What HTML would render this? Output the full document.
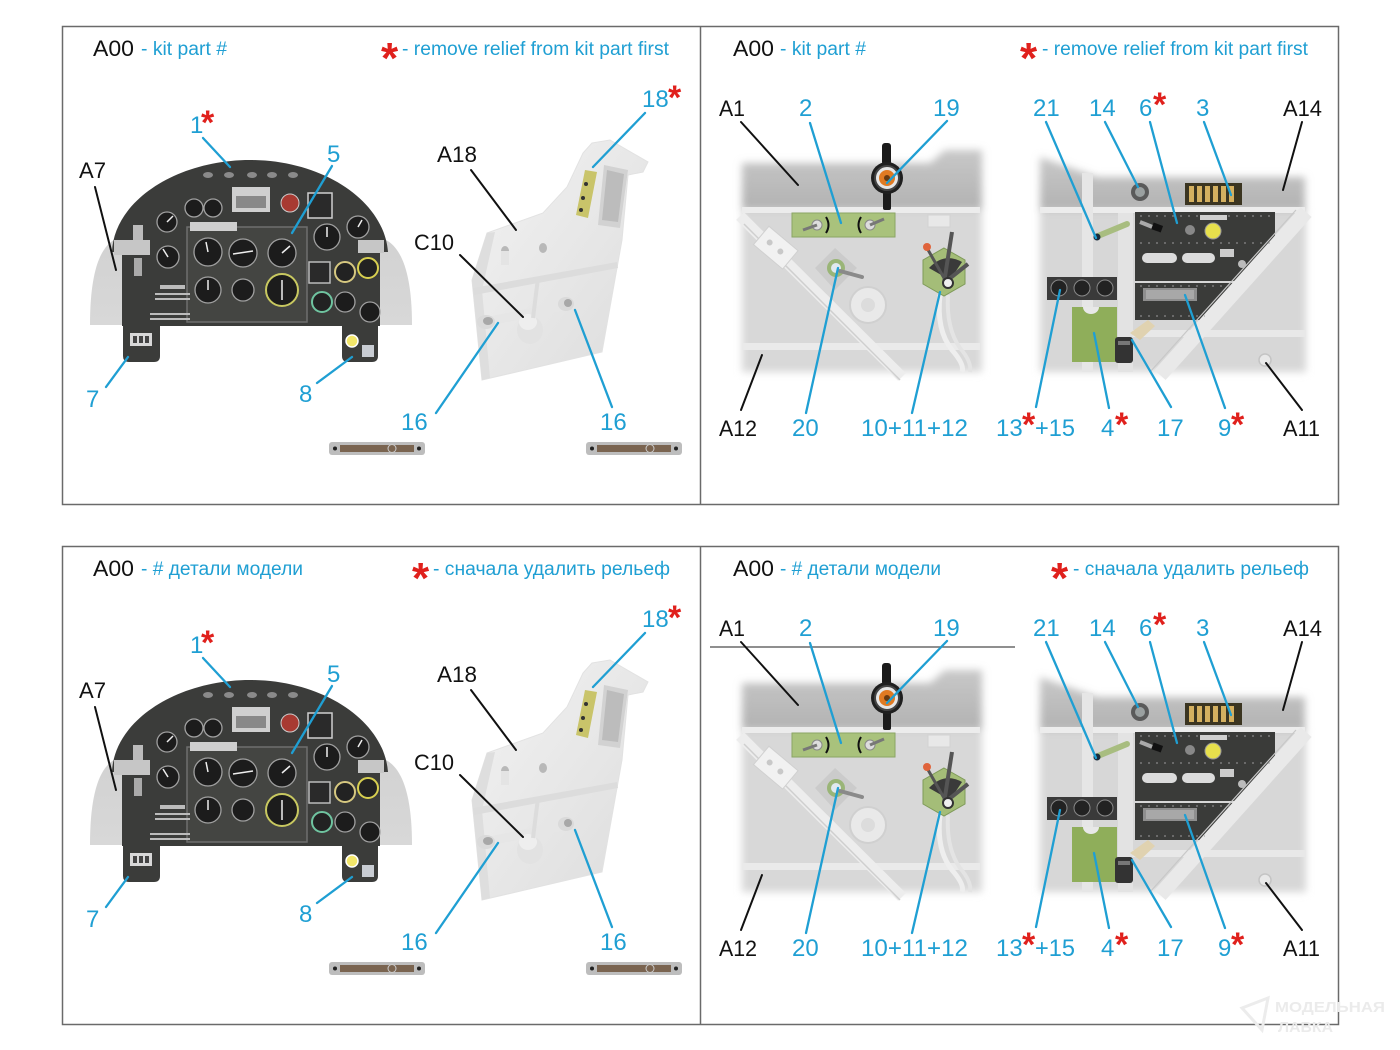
<!DOCTYPE html>
<html><head><meta charset="utf-8">
<style>
html,body{margin:0;padding:0;background:#fff;}
svg{display:block;}
text{font-family:"Liberation Sans","Noto Sans CJK SC",sans-serif;}
.c{fill:#1f9fd3;font-size:24px;}
.k{fill:#111;font-size:22px;}
.h{fill:#1f9fd3;font-size:19px;}
.hk{fill:#111;font-size:22px;}
.r{fill:#e0201c;font-weight:bold;font-size:34px;}
.rh{fill:#e0201c;font-weight:bold;font-size:44px;}
.lc{stroke:#1f9fd3;stroke-width:2.3;fill:none;stroke-linecap:round;}
.lk{stroke:#111;stroke-width:2;fill:none;stroke-linecap:round;}
</style></head><body>
<svg width="1400" height="1050" viewBox="0 0 1400 1050" xmlns="http://www.w3.org/2000/svg">
<defs>
 <linearGradient id="gDome" x1="0" y1="0" x2="0" y2="1"><stop offset="0" stop-color="#d2d2d2"/><stop offset="1" stop-color="#d8d8d8"/></linearGradient>
 <linearGradient id="gBand" x1="0" y1="0" x2="0" y2="1"><stop offset="0" stop-color="#c8c8c8"/><stop offset="1" stop-color="#b2b2b2"/></linearGradient>
 <linearGradient id="gBr" x1="0" y1="0" x2="1" y2="1"><stop offset="0" stop-color="#f3f3f3"/><stop offset="1" stop-color="#dcdcdc"/></linearGradient>
 <filter id="bl4" x="-10%" y="-10%" width="120%" height="120%"><feGaussianBlur stdDeviation="4"/></filter>

 <g id="picL">
  <path d="M90,325 C90,272 100,248 114,240 L386,240 C401,248 412,272 412,325 Z" fill="url(#gDome)"/>
  <path d="M112,252 C114,200 178,160 250,160 C322,160 384,200 388,252 L380,252 L380,326 L122,326 L122,252 Z" fill="#3b3c3a"/>
  <rect x="114" y="240" width="36" height="15" fill="#c6c6c6"/>
  <rect x="358" y="240" width="26" height="13" fill="#c6c6c6"/>
  <path d="M123,325 L160,325 L160,356 Q160,362 154,362 L129,362 Q123,362 123,356 Z" fill="#3b3c3a"/>
  <path d="M342,325 L378,325 L378,356 Q378,362 372,362 L348,362 Q342,362 342,356 Z" fill="#3b3c3a"/>
  <rect x="130" y="333" width="22" height="13" fill="#d8d8d8"/>
  <rect x="133" y="336" width="4" height="7" fill="#444"/><rect x="139" y="336" width="4" height="7" fill="#444"/><rect x="145" y="336" width="4" height="7" fill="#444"/>
  <circle cx="352" cy="341" r="6" fill="#f2e66a" stroke="#fff" stroke-width="1.5"/>
  <rect x="362" y="345" width="12" height="12" fill="#c8ccd2"/>
  <ellipse cx="208" cy="175" rx="5" ry="3" fill="#8a8a8a"/><ellipse cx="229" cy="175" rx="5" ry="3" fill="#8a8a8a"/><ellipse cx="252" cy="175" rx="5" ry="3" fill="#8a8a8a"/><ellipse cx="272" cy="175" rx="5" ry="3" fill="#8a8a8a"/><ellipse cx="293" cy="175" rx="5" ry="3" fill="#8a8a8a"/>
  <rect x="232" y="187" width="38" height="25" fill="#cfcfcf"/><rect x="236" y="196" width="30" height="12" fill="#888"/>
  <rect x="308" y="193" width="24" height="25" fill="#2a2a2a" stroke="#cfcfcf" stroke-width="1.5"/>
  <circle cx="290" cy="203" r="9" fill="#a83a32" stroke="#ccc"/>
  <rect x="187" y="227" width="120" height="95" fill="#444542" stroke="#6e6e6e" stroke-width="1.5"/>
  <rect x="190" y="222" width="47" height="9" fill="#cfcfcf"/>
  <g fill="#1c1c1c" stroke="#a0a0a0" stroke-width="1.3">
   <circle cx="194" cy="208" r="9"/><circle cx="213" cy="208" r="9"/>
   <circle cx="167" cy="222" r="10"/><circle cx="168" cy="257" r="11"/>
   <circle cx="208" cy="252" r="14"/><circle cx="243" cy="253" r="14"/><circle cx="282" cy="253" r="14"/>
   <circle cx="208" cy="290" r="13"/><circle cx="243" cy="290" r="11"/>
   <circle cx="327" cy="237" r="13"/><circle cx="358" cy="227" r="11"/>
   <circle cx="345" cy="302" r="10"/><circle cx="370" cy="312" r="10"/>
  </g>
  <circle cx="282" cy="290" r="16" fill="#1c1c1c" stroke="#c8c860" stroke-width="2"/>
  <circle cx="345" cy="272" r="10" fill="#222" stroke="#d6c880" stroke-width="2"/>
  <circle cx="368" cy="268" r="10" fill="#222" stroke="#d8d050" stroke-width="2"/>
  <circle cx="322" cy="302" r="10" fill="#222" stroke="#6fc4a0" stroke-width="2"/>
  <rect x="309" y="262" width="21" height="21" fill="#2a2a2a" stroke="#bbb" stroke-width="1.5"/>
  <g stroke="#eee" stroke-width="1.5">
   <line x1="208" y1="252" x2="206" y2="242"/><line x1="233" y1="254" x2="253" y2="251"/><line x1="282" y1="253" x2="290" y2="246"/>
   <line x1="208" y1="290" x2="208" y2="280"/><line x1="282" y1="280" x2="282" y2="300"/><line x1="327" y1="237" x2="327" y2="227"/>
   <line x1="168" y1="257" x2="163" y2="249"/><line x1="167" y1="222" x2="173" y2="216"/><line x1="358" y1="227" x2="362" y2="220"/>
  </g>
  <rect x="133" y="225" width="10" height="15" fill="#bbb"/><rect x="134" y="258" width="8" height="18" fill="#aaa"/>
  <g fill="#bbb"><rect x="155" y="293" width="35" height="2"/><rect x="155" y="298" width="35" height="2"/><rect x="160" y="285" width="25" height="4"/><rect x="150" y="313" width="40" height="2"/><rect x="150" y="318" width="40" height="2"/></g>
  <!-- bracket -->
  <path d="M592,143 L610,140 L648,162 L643,172 L628,175 L622,240 L602,352 L482,380 L472,280 L487,233 L543,213 L567,187 L583,153 Z" fill="url(#gBr)" stroke="#e2e2e2" stroke-width="1"/>
  <path d="M472,280 L487,233 L495,232 L482,290 L490,378 L482,380 Z" fill="#dedede"/>
  <path d="M473,288 L617,262 L618,268 L474,295 Z" fill="#dcdcdc"/>
  <path d="M604,165 L628,170 L620,228 L598,225 Z" fill="#d2d2d2"/>
  <path d="M607,170 L624,174 L618,222 L602,220 Z" fill="#bcbcbc"/>
  <path d="M585,170 L597,172 L588,218 L576,215 Z" fill="#c9c46a"/>
  <circle cx="586" cy="184" r="2" fill="#333"/><circle cx="583" cy="198" r="2" fill="#333"/><circle cx="581" cy="210" r="2" fill="#333"/>
  <ellipse cx="505" cy="251" rx="4" ry="5" fill="#b8b8b8"/><ellipse cx="543" cy="248" rx="4" ry="5" fill="#b8b8b8"/>
  <rect x="501" y="251" width="8" height="14" fill="#e4e4e4"/>
  <line x1="485" y1="322" x2="568" y2="305" stroke="#e6e6e6" stroke-width="9"/>
  <ellipse cx="486" cy="322" rx="9" ry="7" fill="#dadada"/><ellipse cx="488" cy="321" rx="5" ry="4" fill="#a8a8a8"/>
  <ellipse cx="566" cy="304" rx="8" ry="7" fill="#dadada"/><ellipse cx="568" cy="303" rx="4" ry="4" fill="#a8a8a8"/>
  <ellipse cx="530" cy="330" rx="13" ry="14" fill="#e2e2e2"/><ellipse cx="528" cy="322" rx="9" ry="8" fill="#eeeeee"/>
  <line x1="538" y1="278" x2="533" y2="318" stroke="#dcdcdc" stroke-width="4"/>
  <!-- bars -->
  <rect x="329" y="442" width="96" height="13" rx="3" fill="#bdbdbd"/>
  <rect x="340" y="445" width="74" height="7" fill="#7a6450"/>
  <circle cx="335" cy="448.5" r="2" fill="#222"/><circle cx="419" cy="448.5" r="2" fill="#222"/><circle cx="392" cy="448.5" r="4" fill="none" stroke="#ccc"/>
  <rect x="586" y="442" width="96" height="13" rx="3" fill="#bdbdbd"/>
  <rect x="597" y="445" width="74" height="7" fill="#7a6450"/>
  <circle cx="592" cy="448.5" r="2" fill="#222"/><circle cx="676" cy="448.5" r="2" fill="#222"/><circle cx="650" cy="448.5" r="4" fill="none" stroke="#ccc"/>
 </g>

 <g id="picR">
  <g filter="url(#bl4)">
   <rect x="742" y="208" width="240" height="164" fill="#d8d8d8"/>
   <path d="M742,163 L930,163 L945,150 L982,150 L982,209 L742,209 Z" fill="url(#gBand)"/>
  </g>
  <rect x="742" y="207" width="238" height="6" fill="#ececec"/>
  <rect x="742" y="343" width="238" height="7" fill="#eaeaea"/>
  <line x1="740" y1="216" x2="902" y2="377" stroke="#ededed" stroke-width="11"/>
  <line x1="744" y1="224" x2="900" y2="380" stroke="#cfcfcf" stroke-width="1.5"/>
  <g transform="rotate(40 775 247)"><rect x="757" y="235" width="38" height="24" fill="#f1f1f1" stroke="#d0d0d0"/><circle cx="768" cy="247" r="3" fill="#c8c8c8"/><circle cx="782" cy="247" r="3" fill="#c8c8c8"/></g>
  <rect x="792" y="213" width="103" height="24" fill="#a9c27c" stroke="#8aa565"/>
  <circle cx="817" cy="225" r="5" fill="#ddd" stroke="#888"/><circle cx="870" cy="225" r="5" fill="#ddd" stroke="#888"/>
  <line x1="817" y1="225" x2="803" y2="230" stroke="#777" stroke-width="3"/><line x1="870" y1="225" x2="884" y2="219" stroke="#777" stroke-width="3"/>
  <path d="M826,217 Q831,225 826,233" stroke="#111" stroke-width="2" fill="none"/><path d="M861,217 Q856,225 861,233" stroke="#111" stroke-width="2" fill="none"/>
  <rect x="882" y="143" width="9" height="22" rx="3" fill="#1b1b1b"/><rect x="883" y="192" width="8" height="18" rx="2" fill="#1b1b1b"/>
  <circle cx="887" cy="178" r="16" fill="#1f1f1f"/><circle cx="887" cy="178" r="12" fill="#e6e6e6" stroke="#444" stroke-width="2"/><circle cx="887" cy="178" r="8" fill="#e07a22"/><circle cx="887" cy="178" r="3" fill="#6a3a10"/>
  <path d="M835,248 L857,268 L835,290 L815,268 Z" fill="#cbcbcb"/>
  <circle cx="836" cy="268" r="9" fill="#9ab577"/><circle cx="836" cy="268" r="5" fill="#e0e8ef"/>
  <line x1="840" y1="271" x2="862" y2="277" stroke="#8a8a8a" stroke-width="4" stroke-linecap="round"/>
  <circle cx="868" cy="305" r="18" fill="#e9e9e9" stroke="#d0d0d0" stroke-width="2"/><circle cx="868" cy="305" r="7" fill="#dcdcdc"/>
  <rect x="928" y="215" width="22" height="12" fill="#e8e8e8" stroke="#d2d2d2"/>
  <path d="M940,295 Q936,330 952,350 Q965,365 962,372" stroke="#eeeeee" stroke-width="5" fill="none"/>
  <path d="M948,295 Q946,328 960,348 Q972,362 970,372" stroke="#e4e4e4" stroke-width="4" fill="none"/>
  <polygon points="944,248 965,260 965,284 944,296 923,284 923,260" fill="#a4bd78" stroke="#7e9a58"/>
  <path d="M929,268 Q944,252 962,262 L950,280 Z" fill="#3a3a3a"/>
  <line x1="944" y1="283" x2="952" y2="232" stroke="#555" stroke-width="4"/><line x1="944" y1="283" x2="968" y2="264" stroke="#555" stroke-width="4"/><line x1="944" y1="278" x2="927" y2="248" stroke="#555" stroke-width="3"/>
  <circle cx="927" cy="247" r="4" fill="#e0643c"/>
  <circle cx="948" cy="283" r="5" fill="#eee" stroke="#333" stroke-width="2"/>
  <g filter="url(#bl4)">
   <rect x="1040" y="208" width="266" height="164" fill="#d7d7d7"/>
   <path d="M1040,157 L1097,177 L1305,177 L1305,210 L1040,210 Z" fill="url(#gBand)"/>
  </g>
  <rect x="1040" y="207" width="265" height="6" fill="#ececec"/>
  <rect x="1082" y="173" width="11" height="199" fill="#e6e6e6"/>
  <rect x="1118" y="213" width="15" height="159" fill="#e3e3e3"/>
  <rect x="1133" y="330" width="172" height="7" fill="#e8e8e8"/>
  <path d="M1135,212 L1275,212 L1275,243 L1237,281 L1135,281 Z" fill="#3a3b39"/>
  <path d="M1135,283 L1236,283 L1207,320 L1135,320 Z" fill="#3a3b39"/>
  <line x1="1306" y1="212" x2="1160" y2="375" stroke="#e9e9e9" stroke-width="15"/>
  <line x1="1296" y1="210" x2="1150" y2="372" stroke="#c8c8c8" stroke-width="1.2"/>
  <g stroke="#9a9a9a" stroke-width="1" stroke-dasharray="2 6"><line x1="1140" y1="243" x2="1270" y2="243"/><line x1="1140" y1="216" x2="1270" y2="216"/><line x1="1140" y1="286" x2="1230" y2="286"/><line x1="1140" y1="316" x2="1205" y2="316"/></g>
  <circle cx="1213" cy="231" r="8" fill="#e7e04c" stroke="#999"/>
  <circle cx="1190" cy="230" r="5" fill="#888"/>
  <rect x="1200" y="215" width="27" height="5" fill="#cfcfcf"/>
  <path d="M1140,222 L1160,230" stroke="#aaa" stroke-width="4"/><rect x="1152" y="224" width="10" height="7" fill="#111" transform="rotate(20 1157 228)"/>
  <rect x="1142" y="253" width="35" height="10" rx="5" fill="#dcdcdc"/><rect x="1182" y="253" width="33" height="10" rx="5" fill="#dcdcdc"/>
  <rect x="1220" y="249" width="14" height="8" fill="#ccc"/><circle cx="1242" cy="264" r="4" fill="#bbb"/>
  <rect x="1143" y="288" width="54" height="13" fill="#8e8e8e"/><rect x="1146" y="290" width="48" height="9" fill="#a8a8a8"/>
  <rect x="1185" y="183" width="57" height="22" fill="#3b3521"/>
  <g fill="#d4b060"><rect x="1189" y="186" width="5" height="16"/><rect x="1197" y="186" width="5" height="16"/><rect x="1205" y="186" width="5" height="16"/><rect x="1213" y="186" width="5" height="16"/><rect x="1221" y="186" width="5" height="16"/><rect x="1229" y="186" width="5" height="16"/></g>
  <circle cx="1140" cy="192" r="9" fill="#5a5a5a"/><circle cx="1140" cy="192" r="5" fill="#9aa0a0"/>
  <line x1="1098" y1="236" x2="1127" y2="224" stroke="#a8bd80" stroke-width="6" stroke-linecap="round"/><circle cx="1097" cy="237" r="3.5" fill="#1a2a3a"/>
  <rect x="1047" y="277" width="70" height="23" fill="#3a3a3a"/>
  <g fill="#222" stroke="#888"><circle cx="1059" cy="288" r="8"/><circle cx="1082" cy="288" r="8"/><circle cx="1105" cy="288" r="8"/></g>
  <rect x="1072" y="307" width="45" height="55" fill="#8fae5a"/><path d="M1083,307 A8,7 0 0 0 1099,307 Z" fill="#e8e8e8"/>
  <rect x="1115" y="337" width="18" height="26" rx="3" fill="#333"/><rect x="1118" y="341" width="12" height="4" fill="#777"/>
  <path d="M1130,333 L1148,320 L1155,326 L1140,340 Z" fill="#e0d2b0"/>
  <circle cx="1265" cy="360" r="6" fill="#e8e8e8" stroke="#c4c4c4" stroke-width="1.5"/>
 </g>
</defs>

<rect x="62.5" y="26.5" width="1276" height="478" fill="none" stroke="#6a6a6a" stroke-width="1.5"/>
<line x1="700.5" y1="26" x2="700.5" y2="504" stroke="#6a6a6a" stroke-width="1.5"/>
<rect x="62.5" y="546.5" width="1276" height="478" fill="none" stroke="#6a6a6a" stroke-width="1.5"/>
<line x1="700.5" y1="546" x2="700.5" y2="1024" stroke="#6a6a6a" stroke-width="1.5"/>

<use href="#picL"/>
<use href="#picR"/>
<use href="#picL" y="520"/>
<use href="#picR" y="520"/>

<line x1="710" y1="647" x2="1015" y2="647" stroke="#6a6a6a" stroke-width="1.5"/>

<text class="hk" x="93" y="56" textLength="41" lengthAdjust="spacingAndGlyphs">A00</text>
<text class="h" x="141" y="55" textLength="86" lengthAdjust="spacingAndGlyphs">- kit part #</text>
<text class="rh" x="381" y="73">*</text>
<text class="h" x="402" y="55" textLength="267" lengthAdjust="spacingAndGlyphs">- remove relief from kit part first</text>

<text class="hk" x="733" y="56" textLength="41" lengthAdjust="spacingAndGlyphs">A00</text>
<text class="h" x="780" y="55" textLength="86" lengthAdjust="spacingAndGlyphs">- kit part #</text>
<text class="rh" x="1020" y="73">*</text>
<text class="h" x="1042" y="55" textLength="266" lengthAdjust="spacingAndGlyphs">- remove relief from kit part first</text>

<text class="hk" x="93" y="576" textLength="41" lengthAdjust="spacingAndGlyphs">A00</text>
<text class="h" x="141" y="575" textLength="162" lengthAdjust="spacingAndGlyphs">- # детали модели</text>
<text class="rh" x="412" y="593">*</text>
<text class="h" x="433" y="575" textLength="237" lengthAdjust="spacingAndGlyphs">- сначала удалить рельеф</text>

<text class="hk" x="733" y="576" textLength="41" lengthAdjust="spacingAndGlyphs">A00</text>
<text class="h" x="780" y="575" textLength="161" lengthAdjust="spacingAndGlyphs">- # детали модели</text>
<text class="rh" x="1051" y="593">*</text>
<text class="h" x="1073" y="575" textLength="236" lengthAdjust="spacingAndGlyphs">- сначала удалить рельеф</text>

<g>
 <text class="c" x="190" y="133">1</text><text class="r" x="201" y="134">*</text>
 <text class="c" x="327" y="162">5</text>
 <text class="k" x="79" y="178" textLength="27" lengthAdjust="spacingAndGlyphs">A7</text>
 <text class="k" x="437" y="162" textLength="40" lengthAdjust="spacingAndGlyphs">A18</text>
 <text class="k" x="414" y="250" textLength="40" lengthAdjust="spacingAndGlyphs">C10</text>
 <text class="c" x="642" y="107">18</text><text class="r" x="668" y="109">*</text>
 <text class="c" x="86" y="407">7</text>
 <text class="c" x="299" y="402">8</text>
 <text class="c" x="401" y="430">16</text>
 <text class="c" x="600" y="430">16</text>
 <text class="k" x="719" y="116" textLength="26" lengthAdjust="spacingAndGlyphs">A1</text>
 <text class="c" x="799" y="116">2</text>
 <text class="c" x="933" y="116">19</text>
 <text class="c" x="1033" y="116">21</text>
 <text class="c" x="1089" y="116">14</text>
 <text class="c" x="1139" y="116">6</text><text class="r" x="1153" y="116">*</text>
 <text class="c" x="1196" y="116">3</text>
 <text class="k" x="1283" y="116" textLength="39" lengthAdjust="spacingAndGlyphs">A14</text>
 <text class="k" x="719" y="436" textLength="38" lengthAdjust="spacingAndGlyphs">A12</text>
 <text class="c" x="792" y="436">20</text>
 <text class="c" x="861" y="436" textLength="107" lengthAdjust="spacingAndGlyphs">10+11+12</text>
 <text class="c" x="996" y="436">13</text><text class="r" x="1022" y="436">*</text><text class="c" x="1035" y="436" textLength="40" lengthAdjust="spacingAndGlyphs">+15</text>
 <text class="c" x="1101" y="436">4</text><text class="r" x="1115" y="436">*</text>
 <text class="c" x="1157" y="436">17</text>
 <text class="c" x="1218" y="436">9</text><text class="r" x="1231" y="436">*</text>
 <text class="k" x="1283" y="436" textLength="37" lengthAdjust="spacingAndGlyphs">A11</text>
</g>
<g transform="translate(0,520)">
 <text class="c" x="190" y="133">1</text><text class="r" x="201" y="134">*</text>
 <text class="c" x="327" y="162">5</text>
 <text class="k" x="79" y="178" textLength="27" lengthAdjust="spacingAndGlyphs">A7</text>
 <text class="k" x="437" y="162" textLength="40" lengthAdjust="spacingAndGlyphs">A18</text>
 <text class="k" x="414" y="250" textLength="40" lengthAdjust="spacingAndGlyphs">C10</text>
 <text class="c" x="642" y="107">18</text><text class="r" x="668" y="109">*</text>
 <text class="c" x="86" y="407">7</text>
 <text class="c" x="299" y="402">8</text>
 <text class="c" x="401" y="430">16</text>
 <text class="c" x="600" y="430">16</text>
 <text class="k" x="719" y="116" textLength="26" lengthAdjust="spacingAndGlyphs">A1</text>
 <text class="c" x="799" y="116">2</text>
 <text class="c" x="933" y="116">19</text>
 <text class="c" x="1033" y="116">21</text>
 <text class="c" x="1089" y="116">14</text>
 <text class="c" x="1139" y="116">6</text><text class="r" x="1153" y="116">*</text>
 <text class="c" x="1196" y="116">3</text>
 <text class="k" x="1283" y="116" textLength="39" lengthAdjust="spacingAndGlyphs">A14</text>
 <text class="k" x="719" y="436" textLength="38" lengthAdjust="spacingAndGlyphs">A12</text>
 <text class="c" x="792" y="436">20</text>
 <text class="c" x="861" y="436" textLength="107" lengthAdjust="spacingAndGlyphs">10+11+12</text>
 <text class="c" x="996" y="436">13</text><text class="r" x="1022" y="436">*</text><text class="c" x="1035" y="436" textLength="40" lengthAdjust="spacingAndGlyphs">+15</text>
 <text class="c" x="1101" y="436">4</text><text class="r" x="1115" y="436">*</text>
 <text class="c" x="1157" y="436">17</text>
 <text class="c" x="1218" y="436">9</text><text class="r" x="1231" y="436">*</text>
 <text class="k" x="1283" y="436" textLength="37" lengthAdjust="spacingAndGlyphs">A11</text>
</g>

<g id="lines">
 <line class="lc" x1="203" y1="138" x2="230" y2="167"/>
 <line class="lc" x1="332" y1="166" x2="292" y2="233"/>
 <line class="lk" x1="95" y1="187" x2="116" y2="270"/>
 <line class="lc" x1="106" y1="387" x2="128" y2="357"/>
 <line class="lc" x1="317" y1="383" x2="352" y2="357"/>
 <line class="lc" x1="645" y1="113" x2="593" y2="167"/>
 <line class="lk" x1="471" y1="170" x2="516" y2="230"/>
 <line class="lk" x1="460" y1="255" x2="523" y2="317"/>
 <line class="lc" x1="436" y1="413" x2="498" y2="323"/>
 <line class="lc" x1="612" y1="407" x2="575" y2="310"/>
 <line class="lk" x1="741" y1="122" x2="798" y2="185"/>
 <line class="lc" x1="810" y1="123" x2="841" y2="223"/>
 <line class="lc" x1="947" y1="121" x2="887" y2="183"/>
 <line class="lc" x1="1046" y1="122" x2="1096" y2="238"/>
 <line class="lc" x1="1105" y1="122" x2="1138" y2="187"/>
 <line class="lc" x1="1150" y1="122" x2="1177" y2="223"/>
 <line class="lc" x1="1204" y1="122" x2="1231" y2="195"/>
 <line class="lk" x1="1302" y1="122" x2="1283" y2="190"/>
 <line class="lk" x1="741" y1="410" x2="762" y2="355"/>
 <line class="lc" x1="806" y1="413" x2="838" y2="268"/>
 <line class="lc" x1="912" y1="413" x2="940" y2="292"/>
 <line class="lc" x1="1036" y1="407" x2="1060" y2="290"/>
 <line class="lc" x1="1109" y1="408" x2="1094" y2="333"/>
 <line class="lc" x1="1171" y1="407" x2="1132" y2="340"/>
 <line class="lc" x1="1225" y1="408" x2="1185" y2="295"/>
 <line class="lk" x1="1302" y1="410" x2="1266" y2="363"/>
</g>
<use href="#lines" y="520"/>

<path d="M1242,1008 L1268,998 L1262,1030 Z" fill="none" stroke="#ececec" stroke-width="3"/>
<text x="1275" y="1012" style="font-size:15px;font-weight:bold;fill:#ebebeb;" textLength="110" lengthAdjust="spacingAndGlyphs">МОДЕЛЬНАЯ</text>
<text x="1278" y="1032" style="font-size:15px;font-weight:bold;fill:#ebebeb;" textLength="55" lengthAdjust="spacingAndGlyphs">ЛАВКА</text>
</svg>
</body></html>
